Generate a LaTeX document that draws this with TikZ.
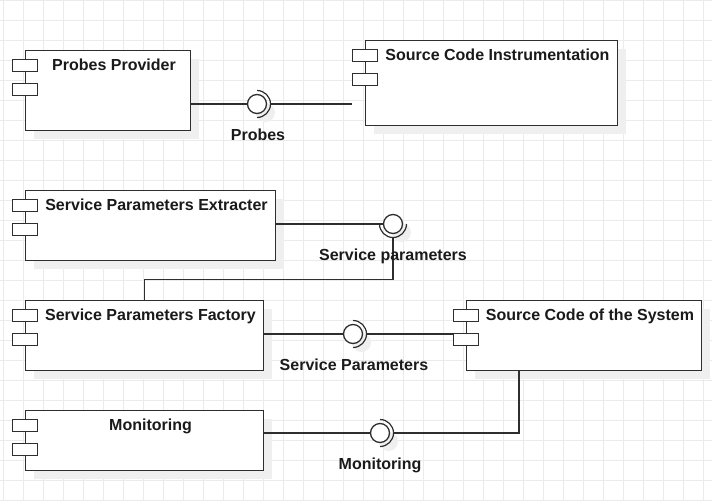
\documentclass[tikz,border=0pt]{standalone}
\usepackage{fontspec}
\setmainfont{Liberation Sans}
\usepackage{tikz}
\usetikzlibrary{shapes,positioning,shadows,calc}
\definecolor{gridgray}{HTML}{EBEBEB}
\definecolor{shadowgray}{HTML}{EFEFEF}
\definecolor{umlline}{HTML}{2E2E2E}
\definecolor{umltext}{HTML}{1A1A1A}

\begin{document}
\begin{tikzpicture}[x=1pt, y=-1pt,
    component/.style={rectangle, draw=umlline, fill=white, line width=1.3pt,
                      anchor=north west, inner sep=0pt,
                      drop shadow={shadow xshift=8.5pt, shadow yshift=-8.5pt, fill=shadowgray, opacity=1}},
    port/.style={rectangle, draw=umlline, fill=white, line width=1.2pt,
                 minimum width=25.5pt, minimum height=12.5pt, inner sep=0pt},
    title/.style={anchor=base, text=umltext, font=\bfseries\fontsize{16}{19}\selectfont},
    lbl/.style={anchor=base, text=umltext, font=\bfseries\fontsize{16}{19}\selectfont},
    ball/.style={circle, draw=umlline, fill=white, line width=1.3pt,
                 minimum size=19pt, inner sep=0pt,
                 drop shadow={shadow xshift=8.5pt, shadow yshift=-8.5pt, fill=shadowgray, opacity=1}},
    socket/.style={draw=umlline, line width=1.2pt},
    wire/.style={draw=umlline, line width=1.2pt}
]
    \useasboundingbox (0,0) rectangle (712,501);

    % Grid
    \foreach \gx in {3,23,...,703}
        \draw[gridgray, line width=1pt] (\gx,0) -- (\gx,501);
    \foreach \gy in {0,20,...,500}
        \draw[gridgray, line width=1pt] (0,\gy) -- (712,\gy);

    % Probes Provider
    \node[component, minimum width=165pt, minimum height=80pt] (provider) at (25,50) {};
    \node[title] (provider-title) at (114,70.5) {Probes Provider};

    % Source Code Instrumentation
    \node[component, minimum width=252pt, minimum height=85pt] (instr) at (365,40) {};
    \node[title] (instr-title) at (497.5,60.5) {Source Code Instrumentation};

    % Service Parameters Extracter
    \node[component, minimum width=250pt, minimum height=70pt] (extracter) at (25,190) {};
    \node[title] (extracter-title) at (156.5,210.5) {Service Parameters Extracter};

    % Service Parameters Factory
    \node[component, minimum width=238pt, minimum height=70pt] (factory) at (25,300) {};
    \node[title] (factory-title) at (150.5,320.5) {Service Parameters Factory};

    % Source Code of the System
    \node[component, minimum width=235pt, minimum height=70pt] (system) at (466,300) {};
    \node[title] (system-title) at (590,320.5) {Source Code of the System};

    % Monitoring
    \node[component, minimum width=238pt, minimum height=60pt] (monitor) at (25,410) {};
    \node[title] (monitor-title) at (150.5,430.5) {Monitoring};

    % Ports
    \foreach \comp in {provider, instr, extracter, factory, system, monitor} {
        \node[port] (\comp-a) at ($(\comp.north west)+(0,15.5)$) {};
        \node[port] (\comp-b) at ($(\comp.north west)+(0,39.5)$) {};
    }

    % Interfaces
    \node[ball] (probes) at (257,104) {};
    \draw[socket] (probes) ++(0,-13.5) arc[start angle=-90, end angle=90, radius=13.5];

    \node[ball] (sparam) at (393,224) {};
    \draw[socket] (sparam) ++(-13.5,0) arc[start angle=180, end angle=0, radius=13.5];

    \node[ball] (sfactory) at (353,334) {};
    \draw[socket] (sfactory) ++(0,-13.5) arc[start angle=-90, end angle=90, radius=13.5];

    \node[ball] (monball) at (380,433) {};
    \draw[socket] (monball) ++(0,-13.5) arc[start angle=-90, end angle=90, radius=13.5];

    % Connections
    \draw[wire] (provider.east |- probes) -- (probes);
    \draw[wire] (probes) ++(13.5,0) -- (probes -| instr-b.west);

    \draw[wire] (extracter.east |- sparam) -- (sparam);
    \draw[wire] (sparam) ++(0,13.5) -- ++(0,42) -| (factory.north);

    \draw[wire] (factory.east |- sfactory) -- (sfactory);
    \draw[wire] (sfactory) ++(13.5,0) -- (sfactory -| system-b.west);

    \coordinate (system-out) at (519,370);
    \draw[wire] (monitor.east |- monball) -- (monball);
    \draw[wire] (monball) ++(13.5,0) -| (system-out);

    % Labels
    \node[lbl] (probes-lbl) at (258,140) {Probes};
    \node[lbl] (sparam-lbl) at (393,260) {Service parameters};
    \node[lbl] (sfactory-lbl) at (354,370) {Service Parameters};
    \node[lbl] (monball-lbl) at (380,469) {Monitoring};
\end{tikzpicture}
\end{document}
